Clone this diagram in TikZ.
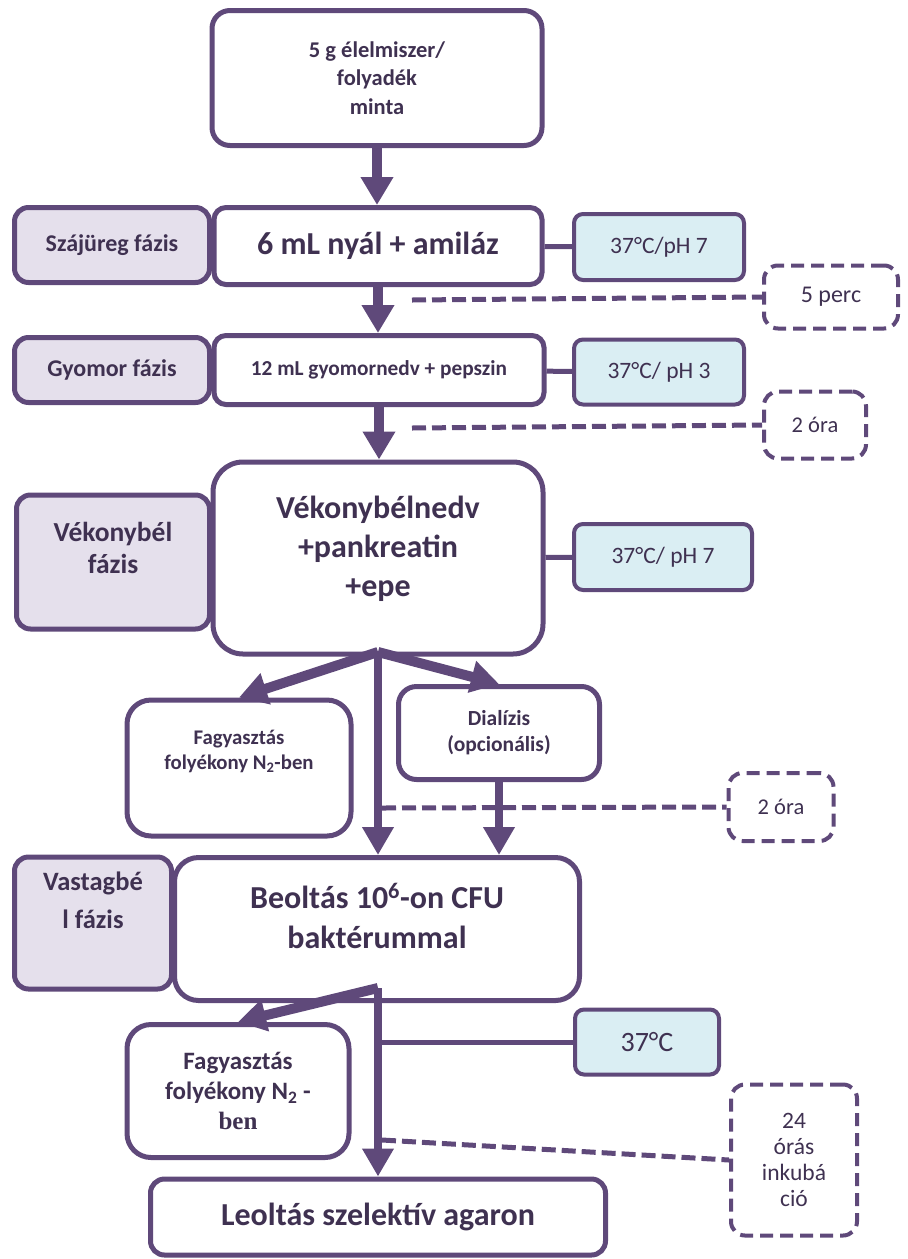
\documentclass[tikz,border=0pt]{standalone}
\usepackage{fontspec}
\setmainfont{Carlito}
\newfontfamily\timesbold{Liberation Serif}
\usetikzlibrary{arrows.meta}
\definecolor{flowline}{HTML}{5F497A}
\definecolor{flowtext}{HTML}{3F3151}
\definecolor{phasefill}{HTML}{E5E0EC}
\definecolor{condfill}{HTML}{DAEEF3}
\begin{document}
\begin{tikzpicture}
[x=1pt,y=-1pt,
  stepbox/.style={draw=flowline,line width=5pt,rounded corners=18pt,fill=white,%
    align=center,text=flowtext,inner sep=0pt},%
  phasebox/.style={stepbox,fill=phasefill,rounded corners=14pt},%
  condbox/.style={draw=flowline,line width=4pt,rounded corners=9pt,fill=condfill,%
    align=center,text=flowtext,inner sep=0pt,font=\fontsize{23.5}{28}\selectfont},%
  timebox/.style={draw=flowline,line width=4pt,dash pattern=on 13pt off 7pt,%
    rounded corners=14pt,align=center,text=flowtext,inner sep=0pt,%
    font=\fontsize{22.5}{26}\selectfont},%
  bigarrow/.style={draw=flowline,line width=10pt,-{Triangle[length=28pt,width=31pt]}},%
  midarrow/.style={draw=flowline,line width=8pt,-{Triangle[length=28pt,width=30pt]}},%
  linkline/.style={draw=flowline,line width=5pt},%
  timeline/.style={draw=flowline,line width=5pt,dash pattern=on 14pt off 6pt}]
\useasboundingbox (0,0) rectangle (908,1259);
%% phase labels on the left
\node (oralph) [phasebox,minimum width=195pt,minimum height=75pt,
  font=\fontsize{24}{28}\selectfont\bfseries] at (112,245) {Szájüreg fázis};
\node (gastph) [phasebox,minimum width=195pt,minimum height=65pt,
  font=\fontsize{24}{28}\selectfont\bfseries] at (112,370) {Gyomor fázis};
\node (intph) [phasebox,minimum width=193pt,minimum height=134pt,text height=50pt,text depth=28pt,
  font=\fontsize{27.5}{32}\selectfont\bfseries] at (113,562) {Vékonybél\\fázis};
\node (colph) [phasebox,minimum width=157pt,minimum height=132pt,text height=50pt,text depth=40pt,
  font=\fontsize{26.5}{38}\selectfont\bfseries] at (93,923) {Vastagbé\\l fázis};
%% main steps
\node (sample) [stepbox,minimum width=330pt,minimum height=135pt,
  font=\fontsize{22.5}{28.5}\selectfont\bfseries] at (377,78) {5 g élelmiszer/\\folyadék\\minta};
\node (saliva) [stepbox,minimum width=328pt,minimum height=77pt,rounded corners=12pt,
  font=\fontsize{32}{36}\selectfont\bfseries] at (378,246) {6 mL nyál + amiláz};
\node (gastric) [stepbox,minimum width=330pt,minimum height=69pt,rounded corners=12pt,
  font=\fontsize{21.3}{24}\selectfont\bfseries] at (379,370) {12 mL gyomornedv + pepszin};
\node (intest) [stepbox,minimum width=330pt,minimum height=192pt,rounded corners=30pt,
  text height=100pt,text depth=24pt,
  font=\fontsize{32}{39}\selectfont\bfseries] at (378,558) {Vékonybélnedv\\+pankreatin\\+epe};
\node (freeze1) [stepbox,minimum width=224pt,minimum height=136pt,rounded corners=24pt,
  text height=40pt,text depth=38pt,
  font=\fontsize{20.8}{25}\selectfont\bfseries] at (239,768) {Fagyasztás\\folyékony N\textsubscript{2}-ben};
\node (dialysis) [stepbox,minimum width=201pt,minimum height=93pt,
  font=\fontsize{21.5}{26}\selectfont\bfseries] at (499,733) {Dialízis\\(opcionális)};
\node (inoc) [stepbox,minimum width=405pt,minimum height=143pt,rounded corners=24pt,
  text height=70pt,text depth=32pt,
  font=\fontsize{32}{40}\selectfont\bfseries] at (377,929) {Beoltás 10\textsuperscript{6}-on CFU\\baktérummal};
\node (freeze2) [stepbox,minimum width=222pt,minimum height=133pt,rounded corners=24pt,
  font=\fontsize{25}{30}\selectfont\bfseries] at (238,1091) {Fagyasztás\\folyékony N\textsubscript{2} -\\{\timesbold ben}};
\node (final) [stepbox,minimum width=455pt,minimum height=76pt,rounded corners=14pt,
  font=\fontsize{32}{36}\selectfont\bfseries] at (378,1217) {Leoltás szelektív agaron};
%% conditions and times
\node (cond1) [condbox,minimum width=170pt,minimum height=66pt] at (659,247) {37°C/pH 7};
\node (cond2) [condbox,minimum width=170pt,minimum height=65pt] at (659,372) {37°C/ pH 3};
\node (cond3) [condbox,minimum width=178pt,minimum height=66pt] at (663,557) {37°C/ pH 7};
\node (cond4) [condbox,minimum width=144pt,minimum height=65pt,
  font=\fontsize{28}{32}\selectfont] at (647,1042) {37°C};
\node (time1) [timebox,minimum width=134pt,minimum height=63pt,
  font=\fontsize{24}{28}\selectfont] at (831,297) {5 perc};
\node (time2) [timebox,minimum width=102pt,minimum height=67pt] at (815,425) {2 óra};
\node (time3) [timebox,minimum width=105pt,minimum height=68pt] at (781,807) {2 óra};
\node (time4) [timebox,minimum width=126pt,minimum height=151pt,
  font=\fontsize{23.5}{26}\selectfont] at (794,1160) {24\\órás\\inkubá\\ció};
%% branch points and dashed line ends
\coordinate (split1) at (378,652);
\coordinate (split2) at (378,988);
\coordinate (t1) at (412,300);
\coordinate (t2) at (412,428);
\coordinate (t3) at (382,808);
\coordinate (t4) at (382,1140);
%% arrows
\draw [bigarrow] (sample.south) -- (sample.south |- saliva.north);
\draw [bigarrow] (saliva.south) -- (saliva.south |- gastric.north);
\draw [bigarrow] (gastric.south) -- (gastric.south |- intest.north);
\draw [bigarrow] (split1) -- (freeze1.north);
\draw [bigarrow] (split1) -- (dialysis.north);
\draw [midarrow] (split1) -- (split1 |- inoc.north);
\draw [midarrow] (dialysis) -- (dialysis |- inoc.north);
\draw [bigarrow] (split2) -- (freeze2.north);
\draw [midarrow] (split2) -- (split2 |- final.north);
%% side connectors
\foreach \from/\to in {saliva/cond1, gastric/cond2, intest/cond3}
  \draw [linkline] (\from) -- (\to);
\draw [linkline] (split2 |- cond4) -- (cond4);
\foreach \from/\to in {t1/time1, t2/time2, t3/time3, t4/time4}
  \draw [timeline] (\from) -- (\to.west);
\end{tikzpicture}
\end{document}
